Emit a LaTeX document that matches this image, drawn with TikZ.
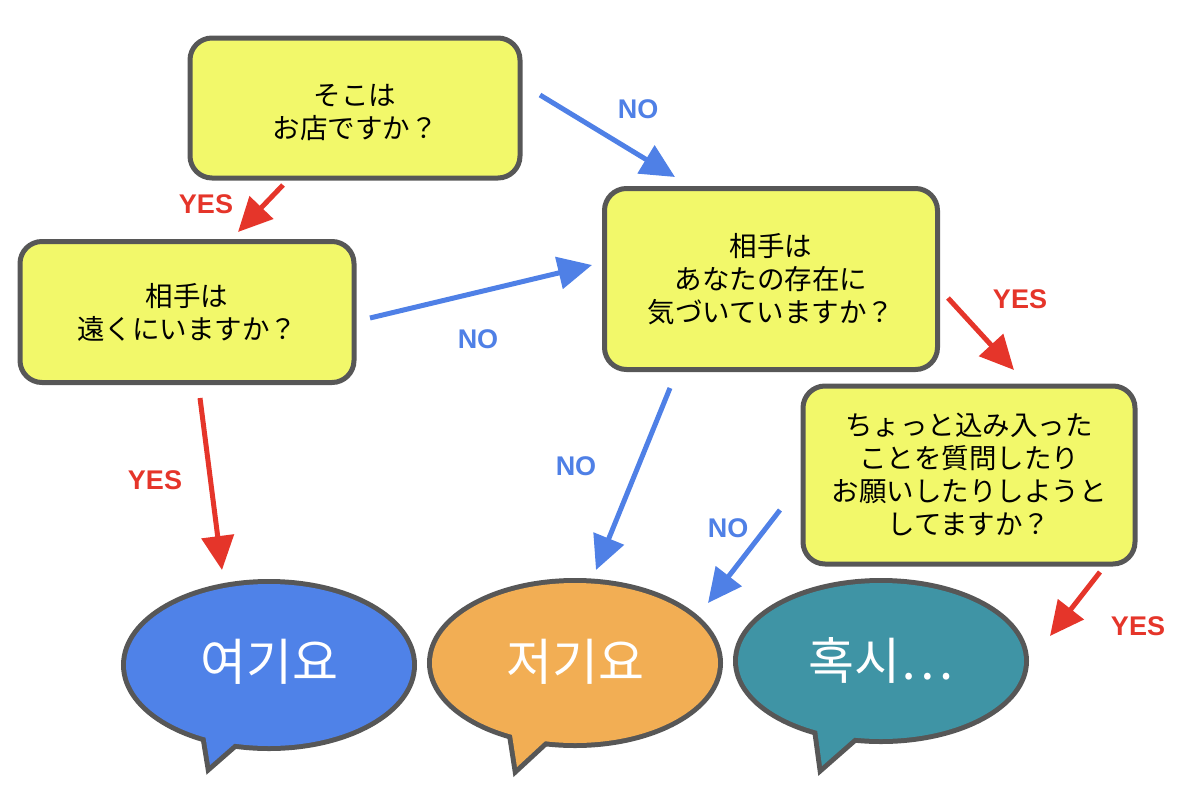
\documentclass[tikz,border=0pt]{standalone}
\usepackage{fontspec}
\setmainfont{Liberation Sans}
\newfontfamily\jpfont{Noto Sans CJK JP}
\newfontfamily\krfont{Noto Sans CJK KR}
\usetikzlibrary{arrows.meta}
\definecolor{boxfill}{HTML}{F2F86A}
\definecolor{edgegray}{HTML}{575757}
\definecolor{arrblue}{HTML}{4F80E6}
\definecolor{arrred}{HTML}{E5352A}
\definecolor{bblue}{HTML}{4F82E8}
\definecolor{borange}{HTML}{F2AE54}
\definecolor{bteal}{HTML}{3F94A5}
\tikzset{
  qbox/.style={draw=edgegray, fill=boxfill, line width=5pt, rounded corners=22pt,
    minimum width=#1, inner sep=0pt, align=center,
    font=\jpfont\fontsize{27.5}{33}\selectfont},
  noarrow/.style={draw=arrblue, line width=5pt, -{Triangle[length=34pt,width=32pt]}},
  yesarrow/.style={draw=arrred, line width=5pt, -{Triangle[length=34pt,width=32pt]}},
  nolabel/.style={text=arrblue, font=\bfseries\fontsize{27}{30}\selectfont},
  yeslabel/.style={text=arrred, font=\bfseries\fontsize{27}{30}\selectfont},
  btext/.style={text=white, font=\krfont\fontsize{50}{54}\selectfont},
}
\begin{document}
\begin{tikzpicture}[x=1pt,y=-1pt]
\useasboundingbox (0,0) rectangle (1200,793);
% boxes
\node[qbox=330pt, minimum height=140pt] (q1) at (355,108) {\rule{0pt}{30pt}そこは\\お店ですか？};
\node[qbox=334pt, minimum height=141pt] (q2) at (187,312) {相手は\\遠くにいますか？};
\node[qbox=333pt, minimum height=181pt] (q3) at (771,279) {相手は\\あなたの存在に\\気づいていますか？};
\node[qbox=332pt, minimum height=178pt] (q4) at (969,475) {ちょっと込み入った\\ことを質問したり\\お願いしたりしようと\\してますか？};
% bubbles
\foreach \cx/\cy/\rx/\ry/\col/\ax/\ay/\tx/\ty/\bx/\by/\nm in {
  269/665/143/81/bblue/203/722/210/765/250/730/b1,
  575/663/143/80/borange/510/722/517/767/557/730/b2,
  881/661/143/78/bteal/816/722/822/766/863/730/b3}{
  \draw[edgegray, line width=10pt, line join=miter] (\cx,\cy) ellipse [x radius=\rx, y radius=\ry];
  \draw[edgegray, line width=10pt, line join=miter] (\ax,\ay) -- (\tx,\ty) -- (\bx,\by) -- cycle;
  \fill[\col] (\cx,\cy) ellipse [x radius=\rx, y radius=\ry];
  \fill[\col] (\ax,\ay) -- (\tx,\ty) -- (\bx,\by) -- cycle;
  \coordinate (\nm) at (\cx,\cy);
}
\node[btext] (t1) at (269,662) {여기요};
\node[btext] (t2) at (575,662) {저기요};
\node[btext] (t3) at (881,660) {혹시…};
% arrow coordinates
\coordinate (a1s) at (540,95);  \coordinate (a1e) at (675,177);
\coordinate (a2s) at (283,185); \coordinate (a2e) at (238,232);
\coordinate (a3s) at (370,318); \coordinate (a3e) at (592,265);
\coordinate (a4s) at (200,398); \coordinate (a4e) at (222,570);
\coordinate (a5s) at (670,388); \coordinate (a5e) at (596,570);
\coordinate (a6s) at (948,298); \coordinate (a6e) at (1014,370);
\coordinate (a7s) at (780,510); \coordinate (a7e) at (708,603);
\coordinate (a8s) at (1100,572); \coordinate (a8e) at (1050,636);
\draw[noarrow] (a1s) -- (a1e);
\draw[yesarrow] (a2s) -- (a2e);
\draw[noarrow] (a3s) -- (a3e);
\draw[yesarrow] (a4s) -- (a4e);
\draw[noarrow] (a5s) -- (a5e);
\draw[yesarrow] (a6s) -- (a6e);
\draw[noarrow] (a7s) -- (a7e);
\draw[yesarrow] (a8s) -- (a8e);
% labels
\node[nolabel] (l1) at (638,109) {NO};
\node[yeslabel] (l2) at (206,204) {YES};
\node[nolabel] (l3) at (478,339) {NO};
\node[yeslabel] (l4) at (155,480) {YES};
\node[nolabel] (l5) at (576,466) {NO};
\node[yeslabel] (l6) at (1020,299) {YES};
\node[nolabel] (l7) at (728,528) {NO};
\node[yeslabel] (l8) at (1138,626) {YES};
\end{tikzpicture}
\end{document}
